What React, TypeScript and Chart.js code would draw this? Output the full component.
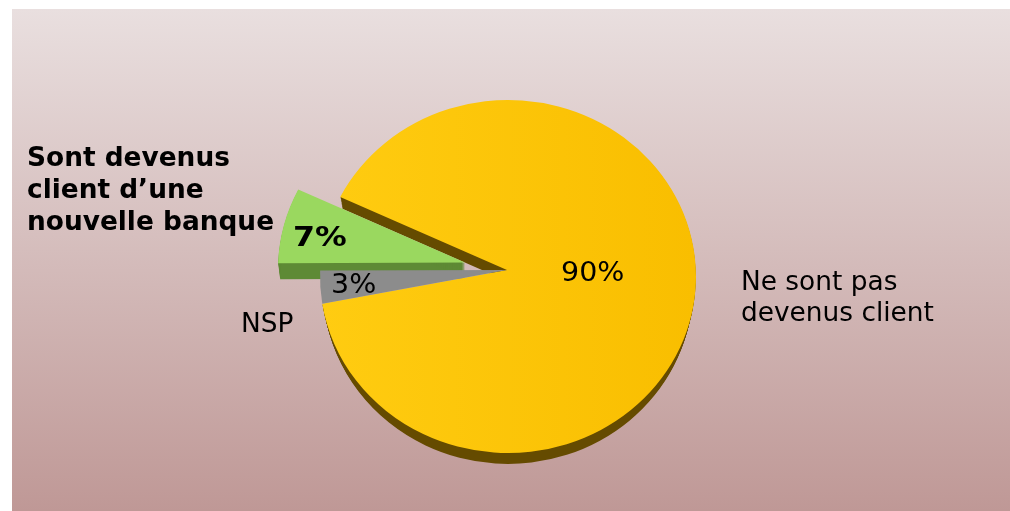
import React, { useEffect, useRef } from "react";
import { Chart, registerables } from "chart.js";

Chart.register(...registerables);

const categories = ["Ne sont pas devenus client", "NSP", "Sont devenus client d’une nouvelle banque"];
const values = [90, 3, 7];
const percentLabels = ["90%", "3%", "7%"];
const sliceOffsets = [0, 0, 43];
const topFills = ["#FDC30C", "#8C8C8C", "#9AD85F"];
const wallFills = ["#654B00", "#5A5A5A", "#5E8A35"];
const wallDepths = [11, 0, 16];
const wallTaper = [3, 0, 2];
const drawOrder = [0, 2, 1];

const YSCALE = 0.94;
const OFFSET_YSCALE = 0.8;
const RX = 188;
const RY = 176.5;
const CENTER_SHIFT_X = 1;
const CENTER_SHIFT_Y = 6.5;

function traceSlice(ctx: CanvasRenderingContext2D, arc: any, offset: number, dy: number, shrink: number) {
  const rx = RX - shrink;
  const ry = RY;
  const mid = (arc.startAngle + arc.endAngle) / 2;
  const ax = arc.x + Math.cos(mid) * offset;
  const ay = arc.y + Math.sin(mid) * offset * OFFSET_YSCALE + dy;
  const cx = ax + CENTER_SHIFT_X;
  const cy = ay + CENTER_SHIFT_Y;
  const hit = (theta: number) => {
    const dx = Math.cos(theta);
    const dyy = Math.sin(theta) * YSCALE;
    const px = ax - cx;
    const py = ay - cy;
    const A = (dx * dx) / (rx * rx) + (dyy * dyy) / (ry * ry);
    const B = 2 * ((px * dx) / (rx * rx) + (py * dyy) / (ry * ry));
    const C = (px * px) / (rx * rx) + (py * py) / (ry * ry) - 1;
    const t = (-B + Math.sqrt(B * B - 4 * A * C)) / (2 * A);
    return Math.atan2((py + t * dyy) / ry, (px + t * dx) / rx);
  };
  ctx.beginPath();
  ctx.moveTo(ax, ay);
  ctx.ellipse(cx, cy, rx, ry, 0, hit(arc.startAngle), hit(arc.endAngle), false);
  ctx.closePath();
}

const backdrop = {
  id: "backdrop",
  beforeDraw(chart: any) {
    const { ctx, width, height } = chart;
    const g = ctx.createLinearGradient(0, 9, 0, height);
    g.addColorStop(0, "#E9DFDF");
    g.addColorStop(1, "#BF9896");
    ctx.save();
    ctx.fillStyle = g;
    ctx.fillRect(12, 9, width - 12, height - 9);
    ctx.restore();
  },
};

const pie3d = {
  id: "pie3d",
  beforeDatasetDraw(chart: any, args: any) {
    const { ctx } = chart;
    const arcs = args.meta.data;
    ctx.save();
    drawOrder.forEach((i) => {
      for (let d = 1; d <= wallDepths[i]; d++) {
        traceSlice(ctx, arcs[i], sliceOffsets[i], d, (wallTaper[i] * d) / wallDepths[i]);
        ctx.fillStyle = wallFills[i];
        ctx.fill();
      }
    });
    drawOrder.forEach((i) => {
      traceSlice(ctx, arcs[i], sliceOffsets[i], 0, 0);
      if (i === 0) {
        const g = ctx.createLinearGradient(320, 0, 696, 0);
        g.addColorStop(0, "#FFCC11");
        g.addColorStop(1, "#F9BE00");
        ctx.fillStyle = g;
      } else {
        ctx.fillStyle = topFills[i];
      }
      ctx.fill();
    });
    ctx.restore();
    return false;
  },
};

const texts = {
  id: "texts",
  afterDatasetsDraw(chart: any) {
    const { ctx } = chart;
    const put = (s: string, x: number, y: number, bold = false, size = 26.4, stretch = 1) => {
      ctx.save();
      ctx.font = `${bold ? "bold " : ""}${size}px "DejaVu Sans"`;
      ctx.fillStyle = "#000";
      ctx.textAlign = "left";
      ctx.textBaseline = "alphabetic";
      ctx.translate(x, y);
      ctx.scale(stretch, 1);
      ctx.fillText(s, 0, 0);
      ctx.restore();
    };
    put("Sont devenus", 27, 166, true);
    put("client d’une", 27, 198, true);
    put("nouvelle banque", 27, 230, true);
    put(percentLabels[2], 293, 246, true, 26.4, 1.2);
    put(percentLabels[1], 331, 293, false, 26.4, 1.08);
    put(percentLabels[0], 561, 281, false, 26.4, 1.08);
    put(categories[1], 241, 332);
    put("Ne sont pas", 741, 290);
    put("devenus client", 741, 321);
  },
};

export default function App() {
  const ref = useRef<HTMLCanvasElement>(null);
  useEffect(() => {
    document.body.style.margin = "0";
    const chart = new Chart(ref.current!, {
      type: "pie",
      data: {
        labels: categories,
        datasets: [{ data: values, backgroundColor: topFills, borderWidth: 0, offset: sliceOffsets }],
      },
      options: {
        animation: false,
        responsive: false,
        rotation: 295,
        radius: 187,
        layout: { padding: { left: 4, right: 0, top: 29, bottom: 0 } },
        plugins: { legend: { display: false }, tooltip: { enabled: false } },
      },
      plugins: [backdrop, pie3d, texts],
    } as any);
    return () => chart.destroy();
  }, []);
  return (
    <canvas
      ref={ref}
      width={1010}
      height={511}
      style={{ display: "block", position: "absolute", left: 0, top: 0 }}
    />
  );
}
